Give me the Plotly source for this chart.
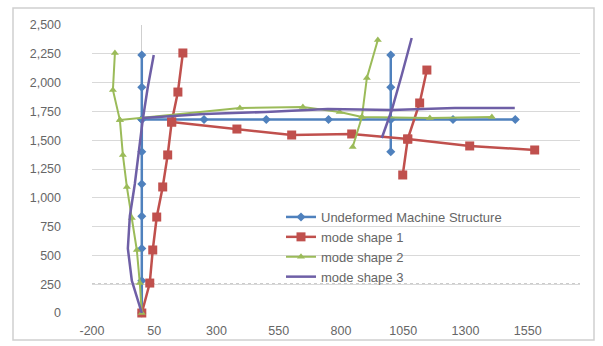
import plotly.graph_objects as go

# ---- data ----
series_names = ["Undeformed Machine Structure", "mode shape 1", "mode shape 2", "mode shape 3"]

# each shape: column (bottom -> top), arm (column node at 1680 -> right end), vertical post
undeformed_col_x = [0, 0, 0, 0, 0, 0, 0, 0, 0]
undeformed_col_y = [0, 280, 560, 840, 1120, 1400, 1680, 1960, 2240]
undeformed_arm_x = [0, 250, 500, 750, 1000, 1250, 1500]
undeformed_arm_y = [1680, 1680, 1680, 1680, 1680, 1680, 1680]
undeformed_post_x = [1000, 1000, 1000, 1000]
undeformed_post_y = [1400, 1680, 1960, 2240]

mode1_col_x = [0, 32, 44, 60, 84, 104, 120, 145, 165]
mode1_col_y = [0, 260, 547, 833, 1094, 1372, 1658, 1918, 2257]
mode1_arm_x = [120, 382, 602, 843, 1068, 1317, 1578]
mode1_arm_y = [1658, 1597, 1545, 1554, 1510, 1450, 1415]
mode1_post_x = [1048, 1068, 1116, 1145]
mode1_post_y = [1198, 1510, 1823, 2109]

mode2_col_x = [0, -8, -20, -40, -60, -76, -88, -116, -108]
mode2_col_y = [0, 260, 547, 825, 1094, 1372, 1675, 1936, 2257]
mode2_arm_x = [-88, 394, 647, 795, 884, 1157, 1406]
mode2_arm_y = [1675, 1780, 1788, 1745, 1701, 1693, 1701]
mode2_post_x = [847, 884, 904, 948]
mode2_post_y = [1441, 1701, 2040, 2370]

mode3_col_x = [0, -40, -56, -48, -28, -12, 4, 24, 48]
mode3_col_y = [0, 280, 560, 840, 1120, 1400, 1680, 1960, 2240]
mode3_arm_x = [4, 250, 498, 747, 1004, 1257, 1498]
mode3_arm_y = [1693, 1727, 1745, 1771, 1762, 1780, 1780]
mode3_post_x = [964, 1004, 1044, 1084]
mode3_post_y = [1519, 1762, 2066, 2387]

x_ticks = [-200, 50, 300, 550, 800, 1050, 1300, 1550]
y_ticks = [0, 250, 500, 750, 1000, 1250, 1500, 1750, 2000, 2250, 2500]


def join(*parts):
    out = []
    for i, p in enumerate(parts):
        if i:
            out.append(None)
        out.extend(p)
    return out


colors = ["#4F81BD", "#C0504D", "#9BBB59", "#6E5FA6"]
symbols = ["diamond", "square", "triangle-up", None]
msizes = [7, 9, 7, 0]
widths = [2.5, 2.5, 2, 2.5]

xs = [
    join(undeformed_col_x, undeformed_arm_x, undeformed_post_x),
    join(mode1_col_x, mode1_arm_x, mode1_post_x),
    join(mode2_col_x, mode2_arm_x, mode2_post_x),
    join(mode3_col_x, mode3_arm_x, mode3_post_x),
]
ys = [
    join(undeformed_col_y, undeformed_arm_y, undeformed_post_y),
    join(mode1_col_y, mode1_arm_y, mode1_post_y),
    join(mode2_col_y, mode2_arm_y, mode2_post_y),
    join(mode3_col_y, mode3_arm_y, mode3_post_y),
]

fig = go.Figure()
for i, name in enumerate(series_names):
    if symbols[i]:
        fig.add_trace(go.Scatter(
            x=xs[i], y=ys[i], name=name, mode="lines+markers",
            line=dict(color=colors[i], width=widths[i]),
            marker=dict(symbol=symbols[i], size=msizes[i], color=colors[i]),
            cliponaxis=False, connectgaps=False,
        ))
    else:
        fig.add_trace(go.Scatter(
            x=xs[i], y=ys[i], name=name, mode="lines",
            line=dict(color=colors[i], width=widths[i]),
            cliponaxis=False, connectgaps=False,
        ))

W, H = 603, 346
L, R, T, B = 92, 23, 25, 33
pw, ph = W - L - R, H - T - B

# white legend panel hiding the gridlines behind the legend
fig.add_shape(type="rect", xref="paper", yref="paper",
              x0=(233 - L) / pw, x1=1.0,
              y0=(H - B - 278) / ph, y1=(H - B - 204) / ph,
              fillcolor="white", line=dict(width=0), layer="between")
# dotted horizontal axis line at 250
fig.add_shape(type="line", xref="paper", yref="y", x0=0, x1=1, y0=250, y1=250,
              line=dict(color="#9a9a9a", width=1.5, dash="dot"), layer="between")
# outer chart frame
fig.add_shape(type="rect", xref="paper", yref="paper",
              x0=(13 - L) / pw, x1=(594 - L) / pw,
              y0=(H - B - 340) / ph, y1=(H - B - 8) / ph,
              line=dict(color="#d0d0d0", width=1.5), layer="below")

fig.update_layout(
    width=W, height=H,
    margin=dict(l=L, r=R, t=T, b=B, autoexpand=False),
    paper_bgcolor="white", plot_bgcolor="white",
    font=dict(family="Liberation Sans, Arial, sans-serif", size=12.5, color="#666666"),
    showlegend=True,
    legend=dict(
        x=(281 - L) / pw, y=(H - B - 202) / ph, xanchor="left", yanchor="top",
        bgcolor="rgba(0,0,0,0)", borderwidth=0, font=dict(size=13, color="#666666"),
        tracegroupgap=0,
    ),
    xaxis=dict(
        range=[-200, 1760], tickvals=x_ticks, ticktext=[str(v) for v in x_ticks],
        showgrid=False, zeroline=True, zerolinecolor="#cfcfcf", zerolinewidth=1.2,
        showline=False, ticks="", ticklabelstandoff=8, automargin=False,
    ),
    yaxis=dict(
        range=[0, 2500], tickvals=y_ticks, ticktext=[f"{v:,}" for v in y_ticks],
        showgrid=True, gridcolor="#d9d9d9", gridwidth=1.2,
        zeroline=False, showline=False, ticks="", ticklabelstandoff=30, automargin=False,
    ),
)

fig.write_html(
    "out.html",
    config={"displayModeBar": False},
    post_script="document.body.style.margin='0';document.body.style.overflow='hidden';",
)
